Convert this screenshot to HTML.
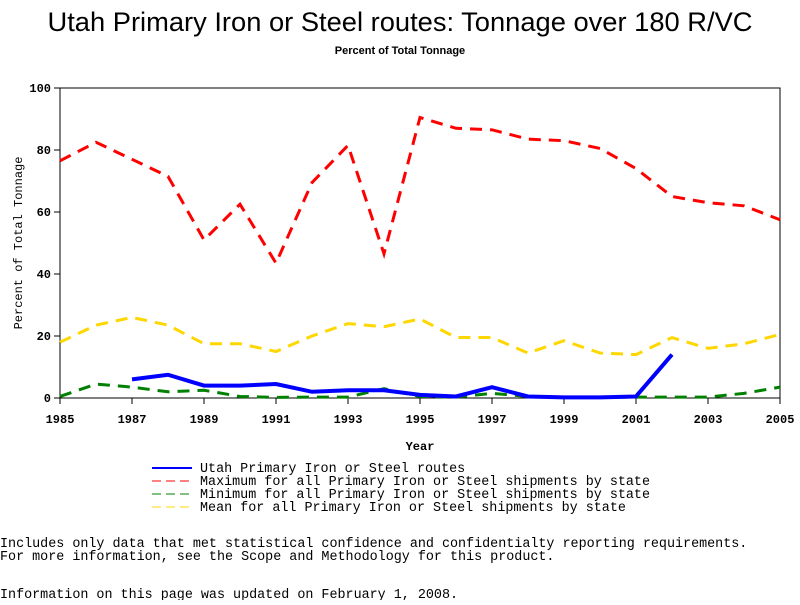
<!DOCTYPE html>
<html><head><meta charset="utf-8"><style>
body{margin:0;background:#fff;width:800px;height:600px;overflow:hidden}
svg text{font-family:"Liberation Sans",sans-serif}
.mono{font-family:"Liberation Mono",monospace}
</style></head><body>
<svg id="chart" width="800" height="600">
<text x="400" y="31" text-anchor="middle" font-size="27" textLength="705" lengthAdjust="spacingAndGlyphs">Utah Primary Iron or Steel routes: Tonnage over 180 R/VC</text>
<text x="400" y="54" text-anchor="middle" font-size="11" font-weight="bold">Percent of Total Tonnage</text>
<rect x="60" y="88" width="720" height="310" fill="none" stroke="#000"/>
<g id="axes"></g>
<g id="series"></g>
<text x="420" y="450" text-anchor="middle" font-size="12" font-weight="bold" class="mono">Year</text>
<text transform="translate(22,243) rotate(-90)" text-anchor="middle" font-size="12" class="mono">Percent of Total Tonnage</text>
<g font-size="13.4" class="mono">
<line x1="152" y1="468" x2="192" y2="468" stroke="#0000ff" stroke-width="2"/>
<text x="200" y="472" class="mono">Utah Primary Iron or Steel routes</text>
<line x1="152" y1="481" x2="192" y2="481" stroke="#ff0000" stroke-dasharray="9,5"/>
<text x="200" y="485" class="mono">Maximum for all Primary Iron or Steel shipments by state</text>
<line x1="152" y1="494" x2="192" y2="494" stroke="#008000" stroke-dasharray="9,5"/>
<text x="200" y="498" class="mono">Minimum for all Primary Iron or Steel shipments by state</text>
<line x1="152" y1="507" x2="192" y2="507" stroke="#ffd700" stroke-dasharray="9,5"/>
<text x="200" y="511" class="mono">Mean for all Primary Iron or Steel shipments by state</text>
</g>
<g font-size="13.4">
<text x="0" y="547" class="mono">Includes only data that met statistical confidence and confidentialty reporting requirements.</text>
<text x="0" y="560" class="mono">For more information, see the Scope and Methodology for this product.</text>
<text x="0" y="598" class="mono">Information on this page was updated on February 1, 2008.</text>
</g>
</svg>
<script>
const years=[1985,1986,1987,1988,1989,1990,1991,1992,1993,1994,1995,1996,1997,1998,1999,2000,2001,2002,2003,2004,2005];
const maxVals=[76.5,82.5,77,71.5,51,62.5,43.5,69.5,81.5,46.5,90.5,87,86.5,83.5,83,80.5,74,65,63,62,57.5];
const meanVals=[18,23.5,26,23.5,17.5,17.5,15,20,24,23,25.5,19.5,19.5,14.5,18.5,14.5,14,19.5,16,17.5,20.5];
const minVals=[0.5,4.5,3.5,2,2.5,0.5,0.2,0.3,0.3,3,0.5,0.3,1.5,0.5,0.2,0.2,0.3,0.3,0.3,1.5,3.5];
const utahYears=[1987,1988,1989,1990,1991,1992,1993,1994,1995,1996,1997,1998,1999,2000,2001,2002];
const utahVals=[6,7.5,4,4,4.5,2,2.5,2.5,1,0.5,3.5,0.5,0.2,0.2,0.5,14];
const xTicks=[1985,1987,1989,1991,1993,1995,1997,1999,2001,2003,2005];
const yTicks=[0,20,40,60,80,100];
const NS="http://www.w3.org/2000/svg";
const X=y=>60+(y-1985)*36;
const Y=v=>398-v*3.1;
const axes=document.getElementById('axes'),series=document.getElementById('series');
function mk(tag,attrs,parent){const e=document.createElementNS(NS,tag);for(const k in attrs)e.setAttribute(k,attrs[k]);parent.appendChild(e);return e;}
xTicks.forEach(t=>{
 const l=mk('line',{x1:X(t),x2:X(t),y1:398,y2:404,stroke:'#000'},axes);
 
 
 const tx=mk('text',{x:X(t),y:423,'text-anchor':'middle','font-size':12,'font-weight':'bold',class:'mono'},axes);
 tx.textContent=t;
 
 
});
yTicks.forEach(t=>{
 const l=mk('line',{x1:54,x2:60,y1:Y(t),y2:Y(t),stroke:'#000'},axes);
 
 
 const tx=mk('text',{x:51,y:Y(t)+4,'text-anchor':'end','font-size':12,'font-weight':'bold',class:'mono'},axes);
 tx.textContent=t;
 
 
});
function line(xs,vs,color,dash,w,name){
 const p=mk('polyline',{points:xs.map((x,i)=>X(x)+','+Y(vs[i])).join(' '),fill:'none',stroke:color,'stroke-width':w,'stroke-dasharray':dash},series);
 
 
}
line(years,meanVals,'#ffd700','12,8',3,'mean-line');
line(years,maxVals,'#ff0000','12,8',3,'max-line');
line(years,minVals,'#008000','12,8',3,'min-line');
line(utahYears,utahVals,'#0000ff','none',4,'utah-line');
</script>
</body></html>
